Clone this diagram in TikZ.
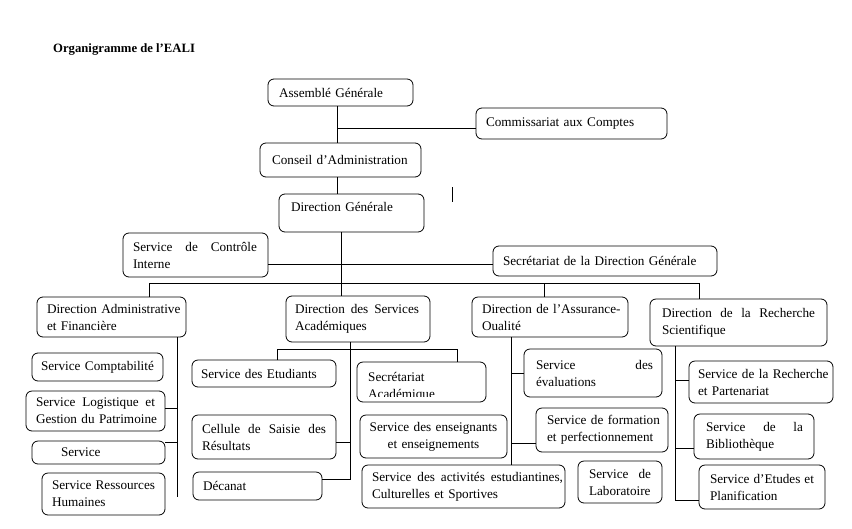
\documentclass[tikz,border=0pt]{standalone}
\usepackage{fontspec}
\setmainfont{Liberation Serif}
\newcommand\fsz{\fontsize{13.2}{17}\selectfont}
\tikzset{
  box/.style={draw, line width=0.8pt, rounded corners=6pt, anchor=north west, align=left,
    inner xsep=0pt, inner ysep=0pt, outer sep=0pt, font=\fsz},
  conn/.style={draw, line width=0.8pt}
}
\begin{document}
\begin{tikzpicture}[x=1pt,y=-1pt]
\useasboundingbox (0,0) rectangle (852,528);

\node[anchor=base west, inner sep=0pt, font=\fontsize{12.7}{14}\selectfont\bfseries] (title) at (53,52) {Organigramme de l’EALI};

% top
\node[box, minimum width=145pt, minimum height=27pt, text width=123pt] (ag) at (268,79) {\mbox{Assemblé Générale}};
\node[box, minimum width=191pt, minimum height=31pt, text width=171pt] (cac) at (476,108) {\mbox{Commissariat aux Comptes}};
\node[box, minimum width=161pt, minimum height=34pt, text width=137pt] (ca) at (260,143) {\mbox{Conseil d’Administration}};
\node[box, minimum width=145pt, minimum height=38pt, text width=121pt] (dg) at (279,194) {\raisebox{12pt}{Direction Générale}};
\node[box, minimum width=145pt, minimum height=44pt, text width=125pt] (sci) at (123,233) {\hbox to 124pt{Service\hfill de\hfill Contrôle}\\Interne};
\node[box, minimum width=224pt, minimum height=30pt, text width=204pt] (sdg) at (493,246) {\mbox{Secrétariat de la Direction Générale}};

% directions
\node[box, minimum width=149pt, minimum height=40pt, text width=129pt] (daf) at (37,297) {\mbox{Direction Administrative}\\\mbox{et Financière}};
\node[box, minimum width=144pt, minimum height=46pt, text width=126pt] (dsa) at (286,296) {\hbox to 124pt{Direction\hfill des\hfill Services}\\Académiques};
\node[box, minimum width=156pt, minimum height=40pt, text width=136pt] (daq) at (472,297) {\mbox{Direction de l’Assurance-}\\Oualité};
\node[box, minimum width=177pt, minimum height=47pt, text width=153pt] (drs) at (650,299) {\hbox to 153pt{Direction\hfill de\hfill la\hfill Recherche}\\Scientifique};

% DAF services
\node[box, minimum width=131pt, minimum height=28pt, text width=113pt] (scomp) at (32,353) {\mbox{Service Comptabilité}};
\node[box, minimum width=139pt, minimum height=40pt, text width=119pt] (slog) at (26,391) {\hbox to 119pt{Service\hfill Logistique\hfill et}\\\mbox{Gestion du Patrimoine}};
\node[box, minimum width=133pt, minimum height=23pt, text width=75pt] (sserv) at (32,441) {Service};
\node[box, minimum width=123pt, minimum height=42pt, text width=103pt] (srh) at (42,473) {\hbox to 103pt{Service\hfill Ressources}\\Humaines};

% DSA services
\node[box, minimum width=144pt, minimum height=27pt, text width=126pt] (setu) at (192,360) {\mbox{Service des Etudiants}};
\node[box, minimum width=129pt, minimum height=40pt] (ssa) at (357,362) {};
\begin{scope}
\clip (357,362) rectangle (486,396);
\node[anchor=north west, inner sep=0pt, align=left, font=\fsz, text width=110pt] (ssatext) at (368,372.5) {Secrétariat\\Académique};
\end{scope}
\node[box, minimum width=144pt, minimum height=44pt, text width=124pt] (cell) at (192,415) {\hbox to 124pt{Cellule\hfill de\hfill Saisie\hfill des}\\Résultats};
\node[box, align=center, minimum width=147pt, minimum height=43pt, text width=131pt] (sens) at (360,415) {\mbox{Service des enseignants}\\\mbox{et enseignements}};
\node[box, minimum width=129pt, minimum height=28pt, text width=109pt] (dec) at (193,472) {Décanat};
\node[box, minimum width=203pt, minimum height=43pt, text width=183pt] (sact) at (362,465) {\hbox to 191pt{Service\hfill des\hfill activités\hfill estudiantines,}\\\mbox{Culturelles et Sportives}};

% DAQ services
\node[box, minimum width=138pt, minimum height=48pt, text width=114pt] (seval) at (524,349) {\hbox to 117pt{Service\hfill des}\\évaluations};
\node[box, minimum width=132pt, minimum height=44pt, text width=110pt] (sform) at (536,408) {\mbox{Service de formation}\\\mbox{et perfectionnement}};
\node[box, minimum width=84pt, minimum height=42pt, text width=62pt] (slab) at (578,461) {\hbox to 62pt{Service\hfill de}\\Laboratoire};

% DRS services
\node[box, minimum width=144pt, minimum height=42pt, text width=126pt] (srp) at (689,361) {\mbox{Service de la Recherche}\\\mbox{et Partenariat}};
\node[box, minimum width=120pt, minimum height=45pt, text width=96pt] (sbib) at (694,414) {\hbox to 97pt{Service\hfill de\hfill la}\\Bibliothèque};
\node[box, minimum width=126pt, minimum height=44pt, text width=104pt] (sep) at (699,465) {\hbox to 104pt{Service\hfill d’Etudes\hfill et}\\Planification};

% connectors top
\coordinate (ka) at (337,128);
\draw[conn] (ag.south -| ka) -- (ca.north -| ka);
\draw[conn] (ka) -- (ka -| cac.west);
\draw[conn] (ca.south -| ka) -- (dg.north -| ka);
\coordinate (kb) at (341,283);
\draw[conn] (dg.south -| kb) -- (dsa.north -| kb);
\coordinate (kc) at (341,264);
\draw[conn] (kc -| sci.east) -- (kc -| sdg.west);
\coordinate (bl) at (149,283);
\coordinate (br) at (699,283);
\coordinate (bq) at (544,283);
\draw[conn] (bl |- daf.north) -- (bl) -- (br) -- (br |- drs.north);
\draw[conn] (bq) -- (bq |- daq.north);
\coordinate (s1) at (452,187);
\coordinate (s2) at (452,202);
\draw[conn] (s1) -- (s2);

% DAF
\coordinate (fa1) at (177,408);
\coordinate (fa2) at (177,442);
\coordinate (fa3) at (177,497);
\draw[conn] (daf.south -| fa3) -- (fa3);
\draw[conn] (fa1) -- (fa1 -| slog.east);
\draw[conn] (fa2) -- (fa2 -| sserv.east);

% DSA
\coordinate (sa0) at (350.5,349);
\coordinate (sa1) at (350.5,442);
\coordinate (sa2) at (350.5,479);
\draw[conn] (dsa.south -| sa0) -- (sa2);
\draw[conn] (sa1) -- (sa1 -| cell.east);
\draw[conn] (sa2) -- (sa2 -| dec.east);
\coordinate (sl) at (277,349);
\coordinate (sr) at (457,349);
\draw[conn] (sl |- setu.north) -- (sl) -- (sr) -- (sr |- ssa.north);

% DAQ
\coordinate (qa1) at (511,373);
\coordinate (qa2) at (511,443);
\coordinate (qa3) at (511,465);
\draw[conn] (daq.south -| qa3) -- (qa3);
\draw[conn] (qa1) -- (qa1 -| seval.west);
\draw[conn] (qa2) -- (qa2 -| sform.west);

% DRS
\coordinate (ra1) at (675,380);
\coordinate (ra2) at (675,448);
\coordinate (ra3) at (675,500);
\draw[conn] (drs.south -| ra3) -- (ra3) -- (ra3 -| sep.west);
\draw[conn] (ra1) -- (ra1 -| srp.west);
\draw[conn] (ra2) -- (ra2 -| sbib.west);
\end{tikzpicture}
\end{document}
